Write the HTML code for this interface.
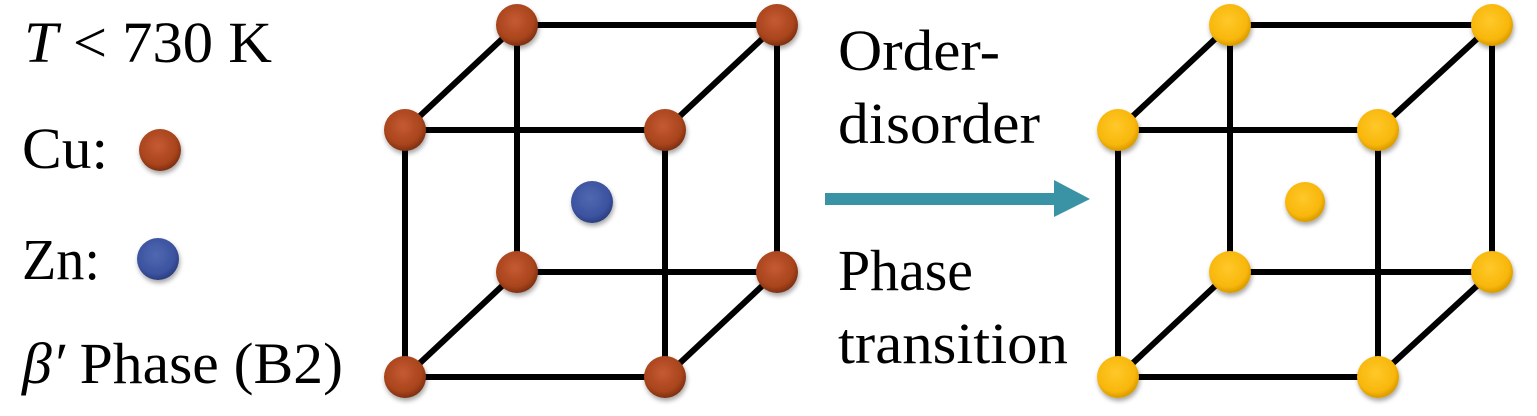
<!DOCTYPE html>
<html><head><meta charset="utf-8"><style>
html,body{margin:0;padding:0;background:#fff;}
svg{display:block;}
text{font-family:"Liberation Serif","Times New Roman",Times,serif;font-size:58px;fill:#000;}
</style></head><body>
<svg width="1537" height="416" viewBox="0 0 1537 416" xmlns="http://www.w3.org/2000/svg">
<defs>
<radialGradient id="cu" cx="45%" cy="40%" r="60%"><stop offset="0" stop-color="#c55a34"/><stop offset="0.75" stop-color="#a8441c"/><stop offset="1" stop-color="#7e2f10"/></radialGradient>
<radialGradient id="zn" cx="45%" cy="40%" r="60%"><stop offset="0" stop-color="#5068b0"/><stop offset="0.75" stop-color="#3c53a0"/><stop offset="1" stop-color="#2c3e80"/></radialGradient>
<radialGradient id="au" cx="45%" cy="40%" r="60%"><stop offset="0" stop-color="#ffc82a"/><stop offset="0.75" stop-color="#f8b70a"/><stop offset="1" stop-color="#d99a00"/></radialGradient>
<filter id="sh" x="-50%" y="-50%" width="200%" height="200%"><feDropShadow dx="1" dy="3" stdDeviation="2.5" flood-opacity="0.35"/></filter>
</defs>

<text x="24" y="62" textLength="248" lengthAdjust="spacingAndGlyphs"><tspan font-style="italic">T</tspan> &lt; 730 K</text>
<text x="22" y="168" textLength="86" lengthAdjust="spacingAndGlyphs">Cu:</text>
<circle cx="160" cy="150" r="21" fill="url(#cu)" filter="url(#sh)"/>
<text x="22" y="279" textLength="78" lengthAdjust="spacingAndGlyphs">Zn:</text>
<circle cx="158" cy="259" r="21" fill="url(#zn)" filter="url(#sh)"/>
<text x="22" y="383" textLength="321" lengthAdjust="spacingAndGlyphs"><tspan font-style="italic">β′</tspan> Phase (B2)</text>

<text x="838" y="70" textLength="162" lengthAdjust="spacingAndGlyphs">Order-</text>
<text x="838" y="143" textLength="202" lengthAdjust="spacingAndGlyphs">disorder</text>
<text x="838" y="290" textLength="135" lengthAdjust="spacingAndGlyphs">Phase</text>
<text x="838" y="363" textLength="230" lengthAdjust="spacingAndGlyphs">transition</text>
<rect x="825" y="193" width="232" height="12" fill="#3a93a5"/>
<polygon points="1054,180 1090,199 1054,217" fill="#3a93a5"/>

<g stroke="#000" stroke-width="6" fill="none">
<path d="M517,25H777V272H517Z M405,130H665V377H405Z M517,25L405,130 M777,25L665,130 M517,272L405,377 M777,272L665,377"/>
<path d="M1230,25H1492V272H1230Z M1118,130H1378V377H1118Z M1230,25L1118,130 M1492,25L1378,130 M1230,272L1118,377 M1492,272L1378,377"/>
</g>
<g filter="url(#sh)">
<g fill="url(#cu)">
<circle cx="517" cy="25" r="21"/><circle cx="777" cy="25" r="21"/>
<circle cx="517" cy="272" r="21"/><circle cx="777" cy="272" r="21"/>
<circle cx="405" cy="130" r="21"/><circle cx="665" cy="130" r="21"/>
<circle cx="405" cy="377" r="21"/><circle cx="665" cy="377" r="21"/>
</g>
<circle cx="592" cy="202" r="21" fill="url(#zn)"/>
<g fill="url(#au)">
<circle cx="1230" cy="25" r="21"/><circle cx="1492" cy="25" r="21"/>
<circle cx="1230" cy="272" r="21"/><circle cx="1492" cy="272" r="21"/>
<circle cx="1118" cy="130" r="21"/><circle cx="1378" cy="130" r="21"/>
<circle cx="1118" cy="377" r="21"/><circle cx="1378" cy="377" r="21"/>
<circle cx="1305" cy="202" r="20"/>
</g>
</g>
</svg>
</body></html>
